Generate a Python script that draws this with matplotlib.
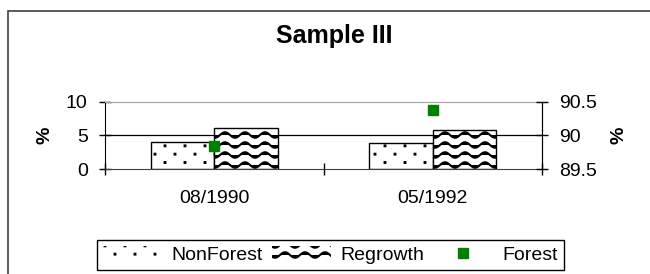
import warnings
import numpy as np
import matplotlib
matplotlib.use('Agg')
import matplotlib.pyplot as plt
import matplotlib.hatch as mhatch
from matplotlib.path import Path
from matplotlib.patches import Patch, Rectangle
from matplotlib.lines import Line2D

warnings.filterwarnings('ignore')

categories = ['08/1990', '05/1992']
nonforest = [4.0, 3.8]
regrowth = [6.1, 5.85]
forest = [89.84, 90.37]
left_ticks = [0, 5, 10]
right_ticks = [89.5, 90, 90.5]
right_labels = ['89.5', '90', '90.5']


# wavy hatch ('~') like the excel "wave" fill
class WaveHatch(mhatch.HatchPatternBase):
    npts = 61

    def __init__(self, hatch, density):
        self.num_lines = int(hatch.count('~') * density * 1.8)
        self.num_vertices = self.num_lines * self.npts

    def set_vertices_and_codes(self, vertices, codes):
        t = np.linspace(0, 1, self.npts)
        for i in range(self.num_lines):
            seg = slice(i * self.npts, (i + 1) * self.npts)
            vertices[seg, 0] = t
            vertices[seg, 1] = (i + 0.5) / self.num_lines + 0.028 * np.sin(2 * np.pi * 5 * t)
            codes[seg] = Path.LINETO
            codes[i * self.npts] = Path.MOVETO


# sparse staggered dots (':'), excel "dotted" fill
class DotHatch(mhatch.HatchPatternBase):
    ncols = 5
    nrows = 12

    def __init__(self, hatch, density):
        self.on = ':' in hatch
        self.num_vertices = self.ncols * self.nrows * 5 if self.on else 0

    def set_vertices_and_codes(self, vertices, codes):
        s = 0.004
        k = 0
        for r in range(self.nrows):
            y = (r + 0.5) / self.nrows
            shift = 0.5 if r % 2 else 0.0
            for c in range(self.ncols):
                xc = (c + 0.25 + shift) / self.ncols
                vertices[k:k + 5] = [(xc - s, y - s), (xc + s, y - s),
                                     (xc + s, y + s), (xc - s, y + s),
                                     (xc - s, y - s)]
                codes[k:k + 5] = [Path.MOVETO, Path.LINETO, Path.LINETO,
                                  Path.LINETO, Path.CLOSEPOLY]
                k += 5


mhatch._hatch_types.append(WaveHatch)
mhatch._hatch_types.append(DotHatch)

plt.rcParams['font.family'] = ['Liberation Sans', 'DejaVu Sans']
plt.rcParams['font.size'] = 14
plt.rcParams['hatch.linewidth'] = 1.5

fig = plt.figure(figsize=(6.5, 2.74), dpi=100)
ax = fig.add_axes([105 / 650, 1 - 169 / 274, 437 / 650, 67.3 / 274])

x = np.arange(len(categories))
w = 0.29
ax.bar(x - w / 2, nonforest, w, facecolor='white', edgecolor='black',
       hatch=':', linewidth=1, zorder=2)
ax.bar(x + w / 2, regrowth, w, facecolor='white', edgecolor='black',
       hatch='~', linewidth=1, zorder=2)

ax.set_xlim(-0.5, 1.5)
ax.set_ylim(0, 10)
ax.set_yticks(left_ticks)
ax.set_xticks(x)
ax.set_xticklabels(categories)
ax.set_xticks([-0.5, 0.5, 1.5], minor=True)
ax.tick_params(axis='x', which='major', length=0, pad=15)
ax.tick_params(axis='x', which='minor', length=9, direction='inout', width=1)
ax.tick_params(axis='y', length=9, direction='inout', width=1, pad=8)
ax.set_ylabel('%', fontweight='bold', labelpad=9)

ax.grid(axis='y', color='black', linewidth=0.9)
ax.set_axisbelow(True)
ax.get_ygridlines()[0].set_visible(False)
ax.get_ygridlines()[-1].set_visible(False)
ax.spines['top'].set_color('#a0a0a0')
ax.spines['bottom'].set_color('#404040')

ax2 = ax.twinx()
ax2.plot(x, forest, linestyle='none', marker='s', markersize=7.5,
         color='#008000')
ax2.set_ylim(89.5, 90.5)
ax2.set_yticks(right_ticks)
ax2.set_yticklabels(right_labels)
ax2.tick_params(axis='y', length=9, direction='inout', width=1, pad=7.5)
ax2.set_ylabel('%', fontweight='bold', labelpad=10)
ax2.spines['top'].set_visible(False)
ax2.spines['bottom'].set_visible(False)
ax2.spines['left'].set_visible(False)

fig.text(0.515, 1 - 36 / 274, 'Sample III', ha='center', va='center',
         fontsize=18, fontweight='bold')

handles = [
    Patch(facecolor='white', edgecolor='black', hatch=':', linewidth=0),
    Patch(facecolor='white', edgecolor='black', hatch='~', linewidth=0),
    Line2D([], [], linestyle='none', marker='s', markersize=7, color='#008000'),
]
leg = fig.legend(handles, ['NonForest', 'Regrowth', 'Forest'], ncol=3,
                 loc='center', bbox_to_anchor=(330.5 / 650, 1 - 255 / 274),
                 handlelength=3.0, handletextpad=0.5, columnspacing=0.5,
                 borderpad=0.3, fancybox=False, framealpha=1)
leg.get_frame().set_edgecolor('black')
leg.get_frame().set_linewidth(1)

# outer chart border (left and top edges visible)
fig.patches.append(Rectangle((8 / 650, -0.2), 1.2, 1.2 - 11 / 274,
                             transform=fig.transFigure, fill=False,
                             edgecolor='#404040', linewidth=1.2))

fig.savefig('out.png', dpi=100)
